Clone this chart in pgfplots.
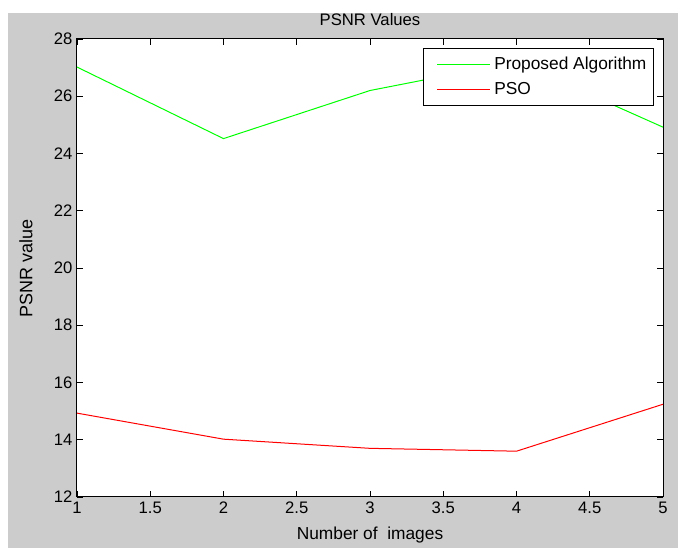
\documentclass[border=0pt]{standalone}
\usepackage{fontspec}
\setmainfont{Liberation Sans}
\usepackage{pgfplots}
\pgfplotsset{compat=1.18}
\definecolor{figgray}{RGB}{204,204,204}
\definecolor{mgreen}{RGB}{0,255,0}
\definecolor{mred}{RGB}{255,0,0}
\begin{document}
\begin{tikzpicture}[x=0.75pt,y=0.75pt]
\useasboundingbox (-77,-51) rectangle (601,497);
\fill[white] (-77,-51) rectangle (601,497);
\fill[figgray] (-69,-51) rectangle (601,484);
\begin{axis}[
  at={(0,0)}, anchor=south west,
  scale only axis, width=439.5pt, height=343.5pt,
  xmin=1, xmax=5, ymin=12, ymax=28,
  xtick={1,1.5,2,2.5,3,3.5,4,4.5,5},
  ytick={12,14,16,18,20,22,24,26,28},
  tick align=inside, major tick length=4.5pt,
  axis line style={line width=0.75pt},
  every tick/.style={black, line width=0.6pt},
  axis background/.style={fill=white},
  /pgf/number format/assume math mode=true,
  tick label style={font=\fontsize{12.5}{14}\selectfont},
  title={PSNR Values},
  title style={at={(axis description cs:0.5,1.011)}, anchor=base, yshift=0pt, font=\fontsize{12.5}{14}\selectfont, inner sep=0pt},
  xlabel={Number of \ images},
  xlabel style={at={(axis description cs:0.5,-0.0932)}, anchor=base, font=\fontsize{13}{15}\selectfont, inner sep=0pt},
  ylabel={PSNR value},
  ylabel style={at={(axis description cs:-0.0760,0.5)}, anchor=base, font=\fontsize{13.5}{15}\selectfont, inner sep=0pt},
  legend style={at={(0.985,0.980)}, anchor=north east, draw=black, line width=0.6pt,
    font=\fontsize{13}{15}\selectfont, inner xsep=3pt, inner ysep=4pt,
    row sep=3pt, nodes={inner sep=2.5pt}},
  legend cell align=left,
  legend image code/.code={\path (0pt,0pt); \draw[#1, line width=0.75pt] (7pt,0pt) -- (47pt,0pt);},
]
\addplot[color=mgreen, line width=0.75pt] coordinates {(1,27.02) (2,24.52) (3,26.2) (4,27.2) (5,24.92)};
\addlegendentry{Proposed Algorithm}
\addplot[color=mred, line width=0.75pt] coordinates {(1,14.93) (2,14.02) (3,13.7) (4,13.6) (5,15.24)};
\addlegendentry{PSO}
\end{axis}
\end{tikzpicture}
\end{document}
